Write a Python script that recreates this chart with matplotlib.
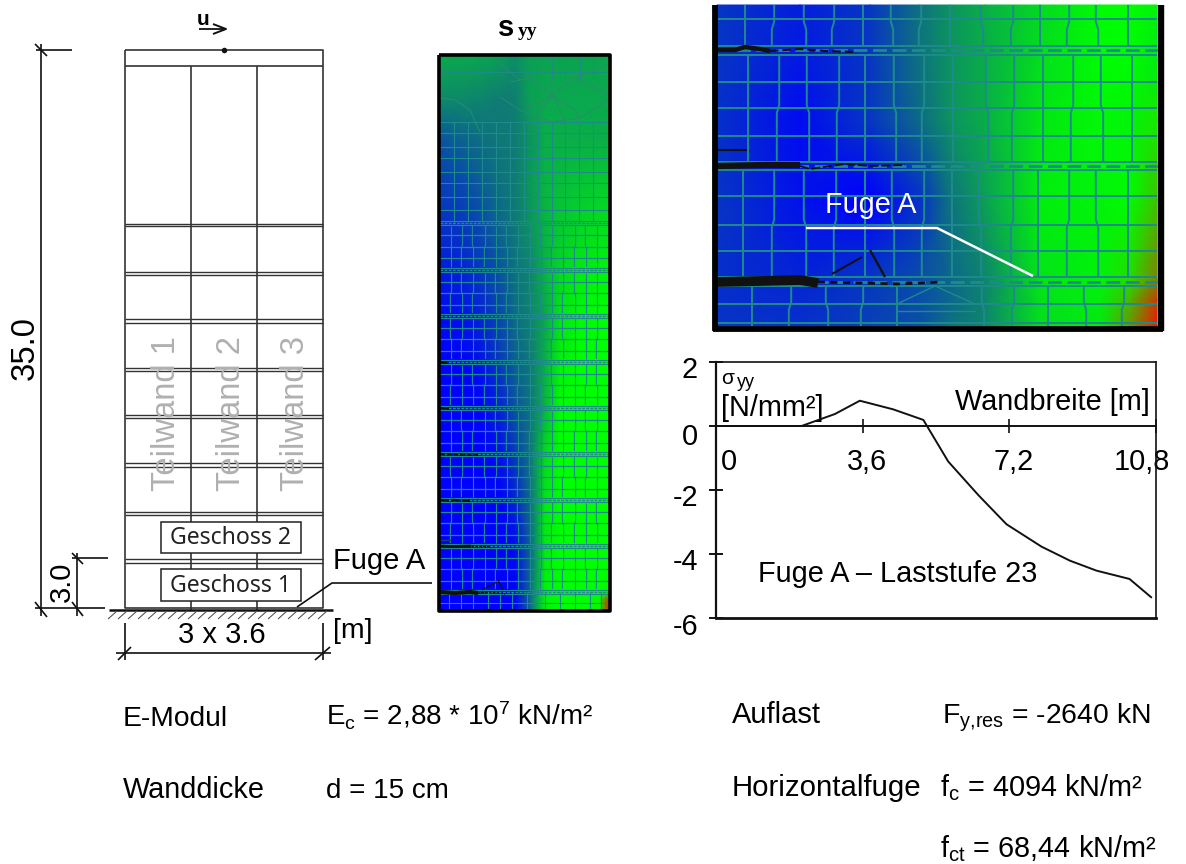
import numpy as np
import matplotlib
matplotlib.use("Agg")
import matplotlib.pyplot as plt
from matplotlib.colors import LinearSegmentedColormap, Normalize
from matplotlib.transforms import ScaledTranslation

# ---------- data ----------
wall_width = [0, 2.10, 2.92, 3.53, 4.35, 5.09, 5.70, 6.44, 7.13, 7.99, 8.69, 9.34, 10.15, 10.68]
sigma_yy = [0, 0, 0.375, 0.79, 0.52, 0.19, -1.11, -2.16, -3.07, -3.77, -4.21, -4.52, -4.78, -5.35]
x_ticks = [0, 3.6, 7.2, 10.8]
x_tick_labels = ["0", "3,6", "7,2", "10,8"]
y_ticks = [2, 0, -2, -4, -6]
y_tick_labels = ["2", "0", "-2", "-4", "-6"]

full_x = [439, 460, 480, 500, 515, 530, 545, 560, 580, 600, 609]
full_y = [55, 100, 140, 180, 225, 270, 316, 362, 408, 454, 500, 546, 592, 600, 610]
full_field = [
    [.38, .36, .34, .28, .15, .30, .32, .32, .32, .34, .36],
    [.12, .12, .08, .02, .05, .30, .35, .35, .35, .35, .35],
    [-.30, -.18, -.08, .00, .02, .20, .40, .40, .40, .40, .40],
    [-.45, -.40, -.22, -.05, .02, .25, .45, .50, .55, .60, .60],
    [-.60, -.55, -.40, -.15, .00, .20, .45, .60, .70, .75, .75],
    [-.78, -.72, -.55, -.30, -.05, .10, .45, .70, .85, .90, .90],
    [-.92, -.85, -.70, -.40, -.10, .08, .35, .80, .95, 1., 1.],
    [-1., -1., -.85, -.50, -.20, .00, .40, .90, 1., 1., 1.],
    [-1., -1., -1., -.70, -.30, -.05, .45, 1., 1., 1., 1.],
    [-1., -1., -1., -.85, -.50, -.05, .70, 1., 1., 1., 1.],
    [-1., -1., -1., -1., -.70, -.10, .80, 1., 1., 1., 1.],
    [-1., -1., -1., -1., -.90, -.20, .85, 1., 1., 1., 1.],
    [-1., -1., -1., -1., -.98, -.15, .90, 1., 1., 1., 1.05],
    [-1., -1., -1., -1., -.98, -.15, .90, 1., 1., 1.02, 1.9],
    [-1., -1., -1., -1., -.98, -.15, .90, 1., 1., 1.05, 2.],
]

zoom_x = [717, 800, 870, 920, 950, 985, 1040, 1100, 1130, 1157]
zoom_y = [5, 60, 120, 200, 280, 300, 326]
zoom_field = [
    [-.55, -.75, -.55, -.05, .20, .40, .72, .98, 1., .90],
    [-.55, -.80, -.55, -.05, .20, .40, .75, .98, .98, .85],
    [-.60, -.90, -.55, -.10, .20, .40, .82, .95, .92, 1.10],
    [-.55, -.85, -1., -.60, -.05, .30, .88, .92, .98, 1.25],
    [-.60, -.70, -.55, -.35, -.15, .10, .80, .90, 1.15, 1.55],
    [-.60, -.65, -.50, -.35, -.15, .10, .78, .88, 1.30, 1.85],
    [-.55, -.60, -.45, -.35, -.05, .10, .75, .85, 1.45, 2.],
]

# ---------- setup ----------
plt.rcParams["font.family"] = ["Liberation Sans", "DejaVu Sans"]
plt.rcParams["mathtext.fontset"] = "custom"
plt.rcParams["mathtext.rm"] = "Liberation Sans"
plt.rcParams["mathtext.it"] = "Liberation Sans:italic"
plt.rcParams["mathtext.bf"] = "Liberation Sans:bold"

fig = plt.figure(figsize=(11.86, 8.64), dpi=100, facecolor="white")
cv = fig.add_axes([0, 0, 1, 1])
cv.set_xlim(0, 1186)
cv.set_ylim(864, 0)
cv.axis("off")

K = "#111111"
W = "#333333"
MESH = "#1f8a8c"


def ln(xs, ys, c=K, lw=1.2, z=3, **kw):
    cv.plot(xs, ys, color=c, lw=lw, zorder=z, solid_capstyle="butt", **kw)


def tx(x, y, s, size=20.5, color="black", z=6, **kw):
    cv.text(x, y, s, fontsize=size, color=color, va="baseline", ha="left", zorder=z, **kw)


cmap = LinearSegmentedColormap.from_list(
    "stress",
    [(0.0, (0, 0, 1)), (1 / 3, (15 / 255, 120 / 255, 120 / 255)),
     (2 / 3, (0, 1, 0)), (1.0, (235 / 255, 25 / 255, 0))])
norm = Normalize(-1, 2)

# ---------- wall drawing ----------
ln([125, 323, 323, 125, 125], [50, 50, 608, 608, 50], W, 1.2)
ln([125, 323], [66, 66], W, 1.2)
for xv in (191, 257):
    ln([xv, xv], [66, 610], W, 1.2)
for y1, y2 in [(223.5, 226), (272, 275), (319, 323), (368, 370.5), (415, 418),
               (463, 467), (512, 514.5), (559, 562.5)]:
    ln([125, 323], [y1, y1], W, 1.0)
    ln([125, 323], [y2, y2], W, 1.0)
for xb, n in [(175, "1"), (240, "2"), (304, "3")]:
    cv.text(xb, 491, "Teilwand " + n, fontsize=23.6, color="#b0b0b0", rotation=90,
            rotation_mode="anchor", ha="left", va="baseline", zorder=4)
cv.scatter([224], [50], s=16, color=K, zorder=5, linewidths=0)

for yb, yt, label in [(522, 553, "Geschoss 2"), (569, 601, "Geschoss 1")]:
    cv.fill([161, 301, 301, 161], [yb, yb, yt, yt], facecolor="white",
            edgecolor="#222222", lw=1.1, zorder=5)
    cv.text(231, yt - 9, label, fontsize=16.6, family="Noto Sans", color="#222222",
            ha="center", va="baseline", zorder=6)

# ground with hatching
ln([109, 333], [610, 610], K, 1.8)
for xh in range(108, 326, 10):
    ln([xh, xh + 9], [619, 611], "#555555", 0.8)

# dimension lines
ln([41, 41], [44, 616], K, 1.2)
ln([36, 72], [50, 50], K, 1.2)
ln([35, 105], [608, 608], K, 1.2)
ln([35, 47], [44, 56], K, 1.2)
ln([35, 47], [602, 617], K, 1.2)
ln([77, 77], [553, 616], K, 1.2)
ln([72, 108], [558, 558], K, 1.2)
ln([72, 83], [553, 564], K, 1.2)
ln([72, 83], [602, 616], K, 1.2)
ln([125, 125], [623, 660], K, 1.2)
ln([323, 323], [623, 660], K, 1.2)
ln([116, 331], [653, 653], K, 1.2)
ln([118, 131], [660, 647], K, 1.2)
ln([315, 330], [660, 647], K, 1.2)
ln([297, 332, 432], [607, 583, 583], K, 1.2)

tx(34, 380, "35.0", size=23.6, rotation=90, rotation_mode="anchor")
tx(70, 602, "3.0", size=21, rotation=90, rotation_mode="anchor")
tx(178, 643, "3 x 3.6", size=21)
tx(333, 638, "[m]", size=20.5)
tx(333, 569, "Fuge A", size=21)

# displacement arrow
tx(197, 25, "u", size=15, fontweight="bold")
ln([199, 226], [29, 29], K, 1.3)
ln([213, 226, 213], [24, 29, 34], K, 1.4)

tx(498, 36, "s", size=21, fontweight="bold")
tx(518, 36, "yy", size=14, fontweight="bold", family="Liberation Serif")

# ---------- full stress contour ----------
cv.pcolormesh(full_x, full_y, np.array(full_field), shading="gouraud", cmap=cmap, norm=norm, zorder=2)
# mesh: lower storeys
floors = [223, 270, 316, 362, 408, 454, 500, 546, 592]
lower_x = [451, 462, 473, 485, 496, 507, 518, 530, 541, 552, 563, 575, 586, 597]
jog = [0, 1, -1, 1, 0, -1, 1, 0, -1, 1, 0, 1, -1, 0]
for i, (a, b) in enumerate(zip(floors[:-1], floors[1:])):
    for k, xm in enumerate(lower_x):
        o = jog[(k + i) % len(jog)] * 0.6
        ln([xm + o, xm + o, xm - o, xm - o],
           [a + 3, (a + b) / 2 - 2, (a + b) / 2 + 2, b - 3], MESH, 0.8, z=2.5)
    for f in (1, 2, 3):
        ym = a + (b - a) * f / 4
        ln([440, 608], [ym, ym], MESH, 0.9, z=2.5)
for f in floors:
    ln([440, 608], [f - 1.6, f - 1.6], MESH, 0.8, z=2.5)
    ln([440, 608], [f + 1.6, f + 1.6], MESH, 0.8, z=2.5)
    ln([440, 608], [f, f], MESH, 1.0, z=2.5, ls=(0, (2, 1)))
for xm in [449, 461, 473, 488, 500, 512, 527, 545, 560, 575, 590, 601]:
    ln([xm, xm], [592, 609], MESH, 0.8, z=2.5)
ln([440, 608], [603, 603], MESH, 0.8, z=2.5)
# mesh: upper wall
for ym in [122, 133, 147, 158, 172, 183, 197, 210]:
    ln([440, 608], [ym, ym], MESH, 0.8, z=2.5)
for xm in [454, 468, 482, 496, 510, 524, 538, 552, 565, 579, 593]:
    ln([xm, xm], [122, 222], MESH, 0.8, z=2.5)
for xm in [525, 537, 552, 565, 580, 593]:
    ln([xm, xm], [56, 80], MESH, 0.6, z=2.5)
ln([440, 608], [72, 72], MESH, 0.6, z=2.5)
FAN = "#2c8a70"
for seg in [
    [(500, 97), (520, 110), (552, 122), (580, 118), (608, 100)],
    [(510, 82), (530, 78), (552, 95), (575, 110), (580, 118)],
    [(525, 110), (552, 95), (575, 78), (608, 65)],
    [(537, 116), (552, 95), (552, 70)],
    [(565, 120), (552, 95)],
    [(520, 80), (495, 60)],
    [(575, 78), (600, 90), (608, 95)],
    [(440, 98), (455, 100), (470, 110), (480, 132)],
]:
    ln([p[0] for p in seg], [p[1] for p in seg], FAN, 0.7, z=2.5)
# cracks
ln([440, 455, 470, 478], [592, 593, 592, 593], K, 3.0, z=3)
ln([478, 490, 505], [593, 592, 594], K, 0.9, z=3, ls=(0, (2, 1)))
ln([440, 452, 471], [546, 546.5, 546], K, 2.0, z=3)
ln([471, 490], [546, 546], K, 0.8, z=3, ls=(0, (2, 1.5)))
ln([440, 455, 470], [500, 500, 501], K, 1.6, z=3, ls=(0, (4, 1)))
ln([440, 462, 478], [454, 455, 455], K, 1.2, z=3, ls=(0, (3, 1)))
ln([440, 449], [408, 408.5], K, 1.5, z=3)
ln([440, 447], [362, 362], K, 2.0, z=3)
ln([440, 451], [540, 540], "#1f3f6a", 1.0, z=3)
ln([482, 497], [590, 582], K, 0.8, z=3)
ln([498, 503], [580, 590], K, 0.8, z=3)
# frame
ln([438.5, 609.5, 609.5, 438.5, 438.5], [55, 55, 611, 611, 55], "black", 2.6, z=4)

# ---------- zoomed stress contour ----------
cv.pcolormesh(zoom_x, zoom_y, np.array(zoom_field), shading="gouraud", cmap=cmap, norm=norm, zorder=2)
bands = [
    (5, 46, [745, 773, 805, 833, 863, 892, 920, 950, 982, 1012, 1040, 1068, 1097, 1128]),
    (55, 163, [748, 778, 808, 838, 865, 895, 923, 953, 987, 1013, 1043, 1072, 1102, 1132]),
    (170, 277, [743, 773, 805, 835, 865, 893, 923, 952, 980, 1012, 1038, 1068, 1097, 1128]),
    (286, 326, [752, 790, 827, 862, 897, 983, 1013, 1048, 1085, 1123]),
]
for y0, y1, xs in bands:
    for k, xm in enumerate(xs):
        o = jog[k] * 1.2
        ln([xm + o, xm + o, xm - o, xm - o],
           [y0, (y0 + y1) / 2 - 4, (y0 + y1) / 2 + 4, y1], MESH, 1.4, z=2.5)
for ym in [19, 82, 108, 136, 196, 225, 251, 304, 323]:
    ln([717, 1157], [ym, ym], MESH, 1.4, z=2.5)
for a, b, c in [(46, 50, 55), (162, 166, 170), (277, 282, 286)]:
    ln([717, 1157], [a, a], MESH, 1.4, z=2.5)
    ln([717, 1157], [c, c], MESH, 1.4, z=2.5)
    ln([717, 1157], [b, b], MESH, 2.0, z=2.5, ls=(0, (5, 2)))
ln([897, 935, 975], [304, 286, 304], MESH, 1.0, z=2.5)
ln([897, 975], [311, 311], MESH, 1.0, z=2.5)
# cracks
ln([717, 735, 745, 760, 770], [50, 50, 47, 49, 51], K, 3.2, z=3)
ln([770, 800, 825, 855], [51, 49, 51, 52], K, 1.5, z=3, ls=(0, (4, 2)))
ln([717, 747], [150, 150], K, 1.5, z=3)
ln([717, 765, 800], [166, 165, 165], K, 4.5, z=3)
ln([800, 810, 845, 870, 905], [166, 169, 164, 166, 165], K, 1.3, z=3, ls=(0, (5, 1.5)))
ln([717, 760, 800, 818], [282, 281, 280, 283], K, 7.0, z=3)
ln([818, 860, 900, 942], [282, 283, 284, 282], K, 2.0, z=3, ls=(0, (2.5, 2)))
ln([832, 862], [274, 257], K, 1.4, z=3)
ln([870, 885], [250, 277], K, 1.6, z=3)
# leader
ln([806, 937, 1033], [228, 228, 276], "white", 1.8, z=5)
tx(825, 213, "Fuge A", size=20.8, color="white")
# frame
ln([715, 715], [5, 331], "black", 4.2, z=4)
ln([1160.5, 1160.5], [5, 331], "black", 4.6, z=4)
ln([713, 1163], [328.5, 328.5], "black", 4.2, z=4)

# ---------- line chart ----------
ax = fig.add_axes([716 / 1186, 1 - 618 / 864, 440 / 1186, 256 / 864], facecolor="none")
ax.set_xlim(0, 10.8)
ax.set_ylim(-6, 2)
ax.plot(wall_width, sigma_yy, color=K, lw=1.4)
ax.axhline(-6, color=K, lw=2.0, clip_on=False)
for s in ax.spines.values():
    s.set_linewidth(1.2)
    s.set_color(K)
ax.spines["bottom"].set_position(("data", 0))
ax.spines["bottom"].set_linewidth(1.4)
ax.spines["left"].set_linewidth(1.6)
ax.set_xticks(x_ticks, x_tick_labels, fontsize=20.8)
ax.set_yticks(y_ticks, y_tick_labels, fontsize=20.8)
ax.tick_params(axis="x", direction="inout", length=10, width=1.2, pad=11, color=K)
ax.tick_params(axis="y", direction="inout", length=10, width=1.4, pad=8, color=K)
for lab, dx in zip(ax.get_xticklabels(), [13, 4, 4, -14]):
    lab.set_transform(lab.get_transform() + ScaledTranslation(dx / 100, 0, fig.dpi_scale_trans))
for lab, dy in zip(ax.get_yticklabels(), [5, 8, 5, 5, 6]):
    lab.set_transform(lab.get_transform() + ScaledTranslation(0, -dy / 100, fig.dpi_scale_trans))

tx(721, 384, "σ", size=15)
tx(737, 387, "yy", size=13)
tx(721, 416, "[N/mm²]", size=20.8)
tx(955, 410, "Wandbreite [m]", size=20.8)
tx(758, 582, "Fuge A – Laststufe 23", size=20.8)

# ---------- property lines ----------
tx(123, 726, "E-Modul", size=20.3)
tx(123, 798, "Wanddicke", size=20.8)
tx(326, 726, r"E$_{\mathrm{c}}$ = 2,88 * 10$^{\mathrm{7}}$ kN/m²", size=20)
tx(326, 798, "d = 15 cm", size=20)
tx(732, 723, "Auflast", size=21)
tx(732, 796, "Horizontalfuge", size=21.2)
tx(942, 723, r"F$_{\mathrm{y{,}res}}$ = -2640 kN", size=20.4)
tx(940, 796, r"f$_{\mathrm{c}}$ = 4094 kN/m²", size=20.8)
tx(940, 857, r"f$_{\mathrm{ct}}$ = 68,44 kN/m²", size=20.8)

fig.savefig("out.png", dpi=100, facecolor="white")
